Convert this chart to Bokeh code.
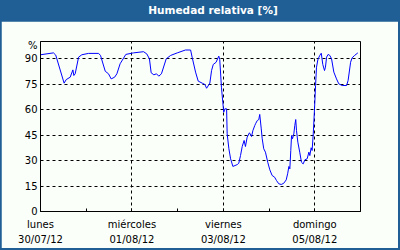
from bokeh.plotting import figure
from bokeh.models import Range1d, FixedTicker, Div
from bokeh.layouts import column
from bokeh.embed import file_html
from bokeh.resources import INLINE

# hours since lunes 30/07/12 00:00
hours = [0, 6.8, 8.0, 12.4, 13.5, 15.6, 17.0, 17.5, 18.2, 20.0, 21.7, 25.2, 30.5, 31.5,
         34.0, 35.7, 37.1, 38.9, 40.1, 41.8, 44.8, 48.8, 54.1, 55.8, 57.2, 58.1, 59.5,
         60.9, 62.1, 63.5, 66.0, 68.3, 71.8, 76.1, 78.8, 79.6, 81.4, 82.8, 84.9, 86.3,
         87.2, 88.9, 89.8, 90.7, 92.2, 93.6, 94.1, 95.0, 95.7, 96.2, 96.8, 97.7, 98.0,
         98.9, 99.8, 101.0, 103.3, 104.1, 105.0, 105.9, 106.9, 107.6, 108.5, 109.7,
         110.8, 111.5, 112.5, 112.9, 113.8, 114.6, 115.1, 115.9, 116.4, 117.2, 118.1,
         119.3, 120.4, 121.6, 122.9, 123.9, 125.1, 126.4, 127.7, 129.0, 129.8, 130.4,
         130.9, 131.4, 131.8, 132.3, 133.0, 133.5, 134.0, 134.4, 135.1, 136.1, 137.0,
         137.9, 138.8, 140.0, 140.9, 141.4, 142.1, 142.6, 143.2, 143.9, 144.4, 144.9,
         145.6, 146.6, 147.4, 148.2, 149.1, 149.6, 150.2, 151.0, 151.9, 152.8, 154.0,
         155.4, 156.6, 158.4, 160.7, 161.5, 162.8, 163.6, 164.9, 166.6]
humidity = [92.2, 93.3, 92.0, 75.5, 77.6, 79.0, 83.3, 80.0, 81.0, 90.8, 92.2, 93.0, 93.0, 91.8,
            82.5, 81.0, 78.0, 79.0, 81.0, 86.9, 92.4, 93.3, 94.0, 92.7, 89.8, 81.6, 80.4,
            81.0, 79.6, 81.0, 89.8, 91.8, 93.3, 95.0, 95.0, 90.8, 82.0, 76.7, 75.5, 74.7,
            72.5, 75.5, 82.9, 86.5, 87.8, 91.4, 89.4, 73.1, 64.3, 58.4, 60.4, 60.4, 45.7,
            36.9, 31.0, 26.5, 27.6, 28.4, 32.9, 38.2, 41.8, 38.2, 43.7, 46.3,
            44.1, 47.6, 50.6, 51.6, 53.5, 54.1, 57.1, 48.6, 42.8, 36.9, 34.9,
            29.0, 24.5, 21.2, 20.2, 18.2, 16.3, 15.9, 16.6, 18.6, 22.5, 26.5,
            25.1, 35.9, 44.7, 42.8, 45.7, 50.6, 54.1, 47.6, 40.8, 34.9, 29.0,
            28.0, 30.4, 31.0, 34.9, 32.9, 37.5, 35.9, 45.7, 61.4, 74.1, 84.9,
            89.2, 91.8, 93.1, 86.5, 82.9, 84.9, 90.8, 92.4, 91.8, 89.8, 82.0,
            78.0, 75.1, 74.1, 74.1, 77.1, 87.8, 90.4, 91.8, 93.3]

y_ticks = [0, 15, 30, 45, 60, 75, 90]
unit_tick = 97.5
unit_text = "%"
day_ticks = [0, 24, 48, 72, 96, 120, 144, 168]
day_labels = {0: "lunes\n30/07/12", 48: "miércoles\n01/08/12",
              96: "viernes\n03/08/12", 144: "domingo\n05/08/12"}
title_text = "Humedad relativa [%]"

BLUE = "#1f5f96"
BG = "#fafffa"
FONT = "DejaVu Sans"

title = Div(text=title_text, width=400, height=21, margin=(0, 0, 0, 0),
            styles={"background-color": BLUE, "color": "white", "font-weight": "bold",
                    "font-family": FONT, "font-size": "10.5px", "text-align": "center",
                    "line-height": "21px", "text-indent": "26px"})

p = figure(width=397, height=227, output_backend="svg", toolbar_location=None,
           x_range=Range1d(0, 168), y_range=Range1d(0, 100),
           min_border_left=39, min_border_right=38, min_border_top=20, min_border_bottom=37,
           background_fill_color=BG, border_fill_color=BG, margin=(0, 2, 2, 1))
p.outline_line_color = "black"
p.outline_line_width = 1
p.outline_line_alpha = 1

p.line(hours, humidity, line_color="#0000ff", line_width=1)

# axes
p.yaxis.ticker = FixedTicker(ticks=y_ticks + [unit_tick])
p.yaxis.major_label_overrides = {unit_tick: unit_text}
p.yaxis.major_tick_in = 0
p.yaxis.major_tick_out = 0
p.yaxis.minor_tick_in = 0
p.yaxis.minor_tick_out = 0
p.yaxis.major_label_standoff = 3
p.xaxis.ticker = FixedTicker(ticks=day_ticks)
p.xaxis.major_tick_in = 3
p.xaxis.major_tick_out = 0
p.xaxis.minor_tick_in = 0
p.xaxis.minor_tick_out = 0
p.xaxis.major_label_overrides = {t: day_labels.get(t, "") for t in day_ticks}
p.xaxis.major_label_standoff = 7
for ax in (p.xaxis, p.yaxis):
    ax.axis_line_color = "black"
    ax.major_tick_line_color = "black"
    ax.major_label_text_font = FONT
    ax.major_label_text_font_size = "10px"
    ax.major_label_text_color = "black"
p.xaxis.major_label_text_line_height = 1.4

# grid
p.ygrid.ticker = FixedTicker(ticks=y_ticks[1:])
p.xgrid.ticker = FixedTicker(ticks=[48, 96, 144])
for g in (p.xgrid, p.ygrid):
    g.grid_line_color = "black"
    g.grid_line_dash = "3 3"
    g.grid_line_width = 1

layout = column(title, p, spacing=0, styles={"background-color": BLUE})

open("out.html", "w").write(file_html(layout, INLINE))
